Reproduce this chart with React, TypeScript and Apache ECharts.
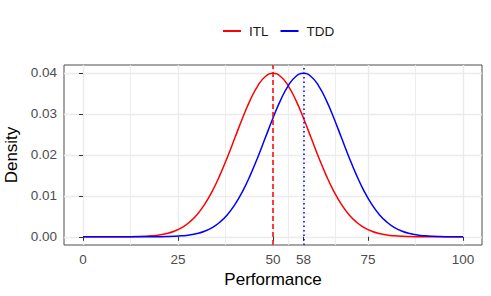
import React, { useEffect, useRef } from "react";
import * as echarts from "echarts";

// x positions (Performance), step 2
const xValues: number[] = Array.from({ length: 51 }, (_, i) => i * 2);

// ITL density (peak ~0.0399 at 50)
const itlDensity: number[] = [
  0, 0, 0, 0, 0,
  0.00001, 0.00003, 0.00006, 0.00012, 0.00024, 0.00044, 0.00079, 0.00136, 0.00224, 0.00355,
  0.0054, 0.0079, 0.01109, 0.01497, 0.01942, 0.0242, 0.02897, 0.03332, 0.03683, 0.0391,
  0.03989,
  0.0391, 0.03683, 0.03332, 0.02897, 0.0242, 0.01942, 0.01497, 0.01109, 0.0079, 0.0054,
  0.00355, 0.00224, 0.00136, 0.00079, 0.00044, 0.00024, 0.00012, 0.00006, 0.00003, 0.00001,
  0, 0, 0, 0, 0,
];

// TDD density (peak ~0.0399 at 58)
const tddDensity: number[] = [
  0, 0, 0, 0, 0, 0, 0, 0, 0,
  0.00001, 0.00003, 0.00006, 0.00012, 0.00024, 0.00044, 0.00079, 0.00136, 0.00224, 0.00355,
  0.0054, 0.0079, 0.01109, 0.01497, 0.01942, 0.0242, 0.02897, 0.03332, 0.03683, 0.0391,
  0.03989,
  0.0391, 0.03683, 0.03332, 0.02897, 0.0242, 0.01942, 0.01497, 0.01109, 0.0079, 0.0054,
  0.00355, 0.00224, 0.00136, 0.00079, 0.00044, 0.00024, 0.00012, 0.00006, 0.00003, 0.00001,
  0,
];

const itlMean = 50;
const tddMean = 58;

const xTicks: number[] = [0, 25, 50, 58, 75, 100];
const xMinor: number[] = [12.5, 37.5, 54, 66.5, 87.5];
const yTicks: number[] = [0, 0.01, 0.02, 0.03, 0.04];
const yMinor: number[] = [0.005, 0.015, 0.025, 0.035];

const FONT = "Liberation Sans, Arial, Helvetica, sans-serif";

export default function App() {
  const ref = useRef<HTMLDivElement>(null);
  useEffect(() => {
    if (!ref.current) return;
    const chart = echarts.init(ref.current, undefined, { renderer: "svg" });
    const gridLine = (v: number, axis: "x" | "y", width: number) =>
      axis === "x"
        ? { xAxis: v, lineStyle: { color: "#ebebeb", width, type: "solid" } }
        : { yAxis: v, lineStyle: { color: "#ebebeb", width, type: "solid" } };
    chart.setOption({
      animation: false,
      backgroundColor: "#ffffff",
      textStyle: { fontFamily: FONT },
      legend: {
        data: ["ITL", "TDD"],
        left: 218,
        top: 19,
        icon: "rect",
        itemWidth: 18,
        itemHeight: 2,
        itemGap: 12,
        textStyle: { fontSize: 13.5, color: "#1a1a1a", fontFamily: FONT, padding: [0, 0, 0, 3] },
      },
      grid: {
        left: 64,
        right: 9,
        top: 65,
        bottom: 51,
        show: true,
        borderColor: "#4d4d4d",
        borderWidth: 1,
        backgroundColor: "transparent",
        containLabel: false,
        outerBoundsMode: "none",
      },
      xAxis: {
        type: "value",
        min: -5,
        max: 105,
        name: "Performance",
        nameLocation: "middle",
        nameGap: 25,
        nameTextStyle: { fontSize: 17, color: "#000", fontFamily: FONT },
        axisLine: { show: false },
        splitLine: { show: false },
        axisTick: {
          show: true,
          length: 4,
          lineStyle: { color: "#333333", width: 1 },
          customValues: xTicks,
        },
        axisLabel: {
          customValues: xTicks,
          fontSize: 13.5,
          color: "#4d4d4d",
          margin: 7,
          fontFamily: FONT,
        },
      },
      yAxis: {
        type: "value",
        min: -0.002,
        max: 0.0419,
        name: "Density",
        nameLocation: "middle",
        nameGap: 41,
        nameTextStyle: { fontSize: 17, color: "#000", fontFamily: FONT },
        axisLine: { show: false },
        splitLine: { show: false },
        axisTick: {
          show: true,
          length: 4,
          lineStyle: { color: "#333333", width: 1 },
          customValues: yTicks,
        },
        axisLabel: {
          customValues: yTicks,
          fontSize: 13.5,
          color: "#4d4d4d",
          margin: 7,
          fontFamily: FONT,
          formatter: (v: number) => v.toFixed(2),
        },
      },
      series: [
        {
          name: "gridlines",
          type: "line",
          data: [],
          z: 0,
          silent: true,
          markLine: {
            silent: true,
            symbol: "none",
            z: 0,
            label: { show: false },
            animation: false,
            data: [
              ...xMinor.map((v) => gridLine(v, "x", 0.9)),
              ...yMinor.map((v) => gridLine(v, "y", 0.9)),
              ...xTicks.map((v) => gridLine(v, "x", 1.4)),
              ...yTicks.map((v) => gridLine(v, "y", 1.4)),
            ],
          },
        },
        {
          name: "ITL",
          type: "line",
          data: xValues.map((x, i) => [x, itlDensity[i]]),
          showSymbol: false,
          smooth: true,
          z: 3,
          lineStyle: { color: "#ff0000", width: 1.5 },
          itemStyle: { color: "#ff0000" },
          markLine: {
            silent: true,
            symbol: "none",
            z: 4,
            label: { show: false },
            data: [{ xAxis: itlMean }],
            lineStyle: { color: "#ff0000", width: 1.5, type: [5, 3] },
          },
        },
        {
          name: "TDD",
          type: "line",
          data: xValues.map((x, i) => [x, tddDensity[i]]),
          showSymbol: false,
          smooth: true,
          z: 3,
          lineStyle: { color: "#0000ff", width: 1.5 },
          itemStyle: { color: "#0000ff" },
          markLine: {
            silent: true,
            symbol: "none",
            z: 4,
            label: { show: false },
            data: [{ xAxis: tddMean }],
            lineStyle: { color: "#0000ff", width: 1.5, type: [1.5, 3] },
          },
        },
      ],
    });
    return () => chart.dispose();
  }, []);
  return <div ref={ref} style={{ width: 491, height: 296, position: "absolute", left: 0, top: 0 }} />;
}
